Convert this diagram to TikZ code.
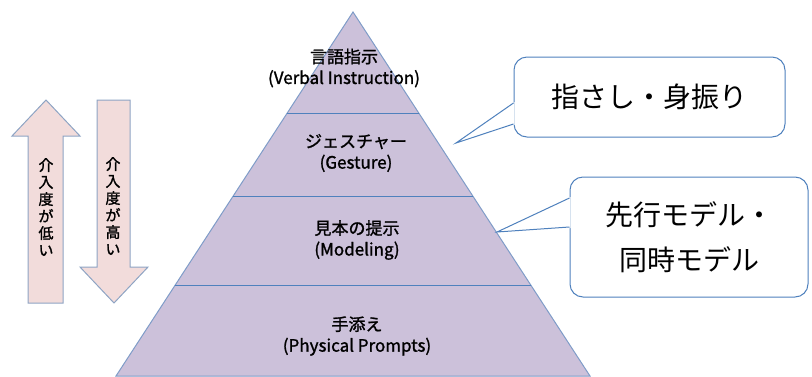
\documentclass[tikz,border=0pt]{standalone}
\usepackage{fontspec}
\setmainfont{Noto Sans CJK JP}
\newfontfamily\boldjp[FakeBold=1.4]{Noto Sans CJK JP}
\usetikzlibrary{positioning}

\definecolor{pyrfill}{HTML}{CCC1DA}
\definecolor{pyredge}{HTML}{7F9CC8}
\definecolor{layerline}{HTML}{4F81BD}
\definecolor{arrfill}{HTML}{F2DCDB}
\definecolor{arredge}{HTML}{8EA4C4}
\definecolor{calledge}{HTML}{4F81BD}

\begin{document}
\begin{tikzpicture}[x=1pt,y=-1pt]

    \useasboundingbox (0,0) rectangle (812,376);

    % Arrows on the left %
    \begin{scope}[fill=arrfill, draw=arredge, line width=1pt]
        \filldraw (46,100) -- (80,136) -- (63,136) -- (63,303) -- (28,303) -- (28,136) -- (12,136) -- cycle; % Up
        \filldraw (97,100) -- (130,100) -- (130,267) -- (148,267) -- (114,303) -- (80,267) -- (97,267) -- cycle; % Down
    \end{scope}

    % Pyramid %
    \filldraw[fill=pyrfill, draw=pyredge, line width=1pt] (353,12) -- (590,376) -- (116,376) -- cycle;
    \begin{scope}[draw=layerline, line width=1pt]
        \draw (287,113) -- (419,113);
        \draw (233,196) -- (473,196);
        \draw (175,285) -- (531,285);
    \end{scope}

    \begin{scope}[every node/.style={align=center, font=\boldjp\fontsize{17}{21}\selectfont}]
        \node (verbal) at (344,68) {言語指示\\(Verbal Instruction)};
        \node (gesture) at (356,153) {ジェスチャー\\(Gesture)};
        \node (model) at (357,240) {見本の提示\\(Modeling)};
        \node (physical) at (357,336) {手添え\\(Physical Prompts)};
    \end{scope}

    \begin{scope}[every node/.style={align=center, font=\boldjp\fontsize{15}{17}\selectfont}]
        \node (low) at (46,207) {介\\入\\度\\が\\低\\い};
        \node (high) at (113,206) {介\\入\\度\\が\\高\\い};
    \end{scope}

    % Callouts %
    \begin{scope}[every node/.style={draw=calledge, fill=white, rounded corners=13pt, line width=1pt, align=center, font=\fontsize{28}{45}\selectfont}]
        \node[minimum width=271pt, minimum height=80pt] (g) at (649.5,97) {指さし・身振り};
        \node[minimum width=238pt, minimum height=120pt] (m) at (689,237) {先行モデル・\\同時モデル};
    \end{scope}

    \coordinate (gtip) at (456,143);
    \coordinate (mtip) at (497,232);

    \fill[white] (gtip) -- ([yshift=-5pt,xshift=1pt]g.west) -- ([yshift=-28pt,xshift=1pt]g.west) -- cycle;
    \draw[calledge, line width=1pt] ([yshift=-6pt]g.west) -- (gtip) -- ([yshift=-27pt]g.west);

    \fill[white] (mtip) -- ([yshift=40pt,xshift=1pt]m.west) -- ([yshift=9pt,xshift=1pt]m.west) -- cycle;
    \draw[calledge, line width=1pt] ([yshift=39pt]m.west) -- (mtip) -- ([yshift=10pt]m.west);

\end{tikzpicture}
\end{document}
